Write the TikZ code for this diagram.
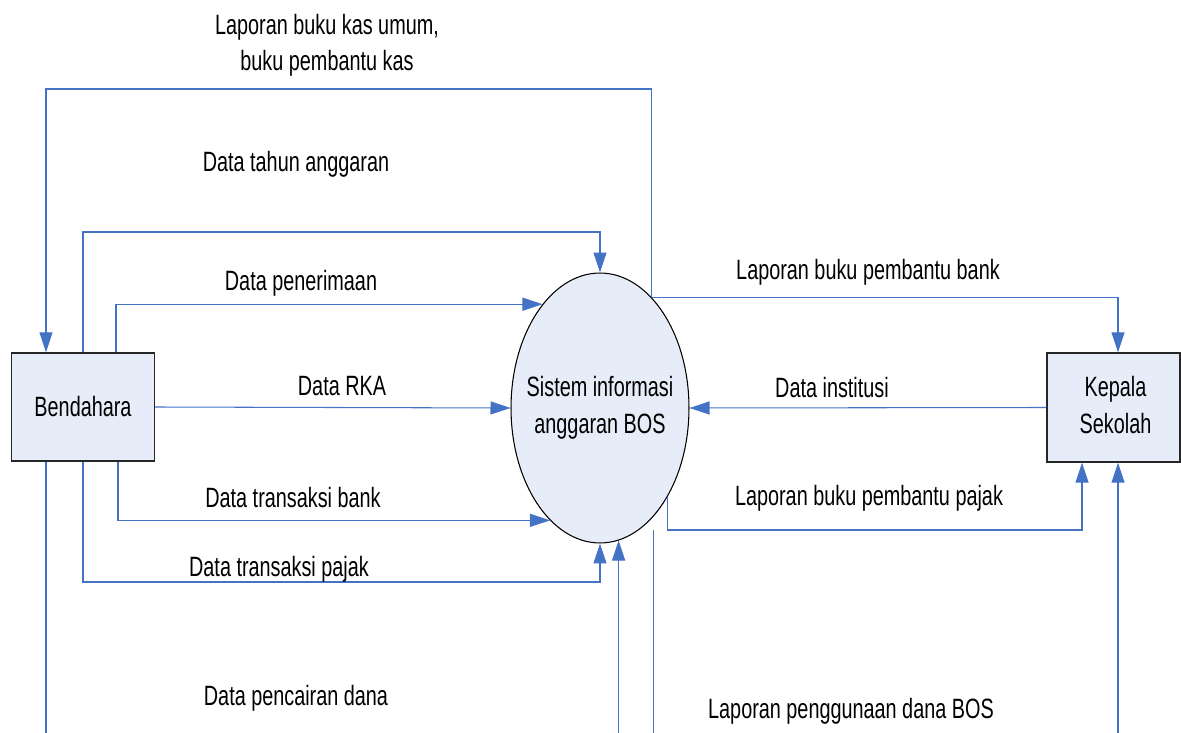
\documentclass[tikz,border=0pt]{standalone}
\usepackage{fontspec}
\setmainfont{Liberation Sans}
\usepackage{graphicx}
\definecolor{myblue}{RGB}{68,114,196}
\definecolor{myfill}{RGB}{231,237,248}
\usetikzlibrary{arrows.meta,shapes.geometric}
\newcommand{\nar}[1]{\scalebox{0.71}[1]{#1}}

\begin{document}
\begin{tikzpicture}[
  x=0.02cm, y=-0.02cm,
  font=\fontsize{15.9}{21}\selectfont,
  entity/.style={
    draw=black!85,
    line width=0.8pt,
    fill=myfill,
    rectangle,
    inner sep=0pt
    },
  process/.style={
    draw=black,
    line width=0.6pt,
    fill=myfill,
    ellipse,
    inner sep=0pt,
    minimum width=3.56cm,
    minimum height=5.4cm
    },
  flow/.style={
    draw=myblue,
    line width=0.6pt,
    -{Triangle[length=0.4cm,width=0.26cm]}
    },
  lbl/.style={anchor=base, inner sep=0pt}
]
\useasboundingbox (0,0) rectangle (1181,733);
\clip (0,0) rectangle (1181,733);

\node[entity, minimum width=2.86cm, minimum height=2.16cm] (bend) at (83,407) {\nar{Bendahara}};
\node[process] (sys) at (600,408)
  {\makebox[0pt]{\nar{\begin{tabular}{@{}c@{}}Sistem informasi\\anggaran BOS\end{tabular}}}};
\node[entity, minimum width=2.66cm, minimum height=2.18cm] (kep) at (1113.5,407.5)
  {\hspace*{0.08cm}\nar{\begin{tabular}{@{}c@{}}Kepala\\Sekolah\end{tabular}}};

\foreach \xx in {46,83,116,118,1082,1118}
  \coordinate (c\xx) at (\xx,0);
\coordinate (ykas) at (0,89);
\coordinate (ytahun) at (0,232);
\coordinate (ypajak) at (0,530);
\coordinate (ytp) at (0,582);
\coordinate (ylow) at (0,760);

\draw[flow] (sys.65) |- (c46 |- ykas) -- (c46 |- bend.north);
\draw[flow] (c83 |- bend.north) |- (sys.north |- ytahun) -- (sys.north);
\draw[flow] (c116 |- bend.north) |- (sys.119);
\draw[flow] (bend.east) -- (sys.west);
\draw[flow] (c118 |- bend.south) |- (sys.246);
\draw[flow] (c83 |- bend.south) |- (sys.south |- ytp) -- (sys.south);
\draw[flow] (c46 |- bend.south) |- (sys.278 |- ylow) -- (sys.278);
\draw[flow] (sys.65) -| (c1118 |- kep.north);
\draw[flow] (kep.west) -- (sys.east);
\draw[flow] (sys.307) |- (c1082 |- ypajak) -- (c1082 |- kep.south);
\draw[flow] (sys.296 |- ypajak) |- (c1118 |- ylow) -- (c1118 |- kep.south);

\node[lbl] (lkas) at (327,71)
  {\nar{\begin{tabular}[b]{@{}c@{}}Laporan buku kas umum,\\buku pembantu kas\end{tabular}}};
\foreach \xx/\yy/\Texto [count=\Ti from 1] in {
  296/172/Data tahun anggaran,
  301/291/Data penerimaan,
  342/396/Data RKA,
  293/507/Data transaksi bank,
  279/576/Data transaksi pajak,
  296/705/Data pencairan dana,
  868/280/Laporan buku pembantu bank,
  832/398/Data institusi,
  869/505/Laporan buku pembantu pajak,
  851/718/Laporan penggunaan dana BOS}
  \node[lbl] (lab\Ti) at (\xx,\yy) {\nar{\Texto}};

\end{tikzpicture}
\end{document}
